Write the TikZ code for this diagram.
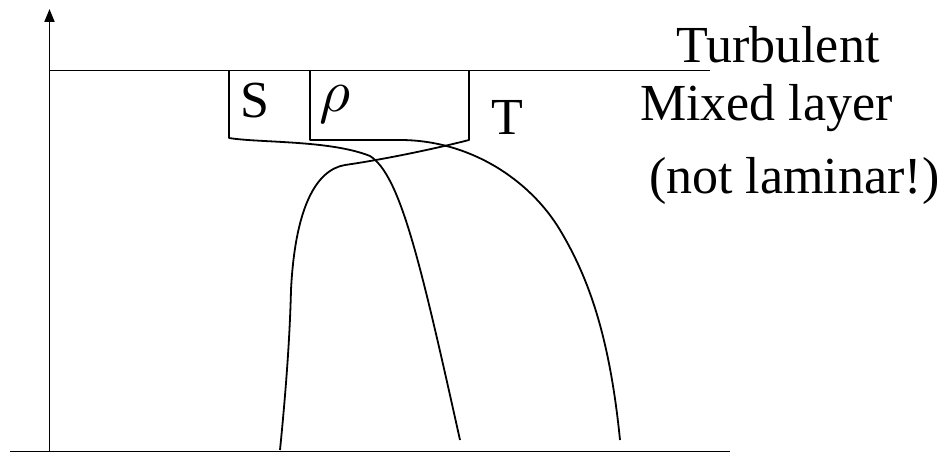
\documentclass[tikz,border=0pt]{standalone}
\usepackage{fontspec}
\setmainfont{Liberation Serif}
\usetikzlibrary{arrows.meta}
\begin{document}
\begin{tikzpicture}[x=1pt,y=-1pt,
  ln/.style={line width=1.9pt,black},
  curve/.style={line width=1.8pt,black,line join=round},
  lbl/.style={inner sep=0pt,anchor=base west,font=\fontsize{52}{60}\selectfont}]
\useasboundingbox (0,0) rectangle (951,454);
% axes
\coordinate (o) at (49.5,451.5);
\coordinate (top) at (49.5,9);
\coordinate (bl) at (10,451.5);
\coordinate (br) at (730,451.5);
\coordinate (ml) at (49.5,70.5);
\coordinate (mr) at (710,70.5);
\draw[ln,-{Triangle[length=13pt,width=10pt]}] (o) -- (top);
\draw[ln] (bl) -- (br);
\draw[ln] (ml) -- (mr);
% S profile
\draw[curve] (229,70.5) -- (229,138)
  .. controls (260,143) and (330,140) .. (370,156)
  .. controls (400,175) and (420,260) .. (460,440);
% rho profile
\draw[curve] (310,70.5) -- (310,140) -- (400,140)
  .. controls (470,140) and (530,180) .. (560,230)
  .. controls (590,280) and (610,340) .. (620,440);
% T profile
\draw[curve] (469,70.5) -- (469,140)
  .. controls (430,150) and (380,160) .. (345,165)
  .. controls (315,170) and (295,210) .. (291,290)
  .. controls (290,330) and (287,380) .. (280,450);
% labels
\node[lbl] (s) at (240,118) {S};
\node[lbl,font=\fontsize{10}{12}\selectfont] (rho) at (319,112) {\scalebox{6}{$\rho$}};
\node[lbl] (t) at (491,135) {T};
\node[lbl] (turb) at (676,63) {Turbulent};
\node[lbl] (mix) at (640,121) {Mixed layer};
\node[lbl] (nl) at (649,194) {(not laminar!)};
\end{tikzpicture}
\end{document}
